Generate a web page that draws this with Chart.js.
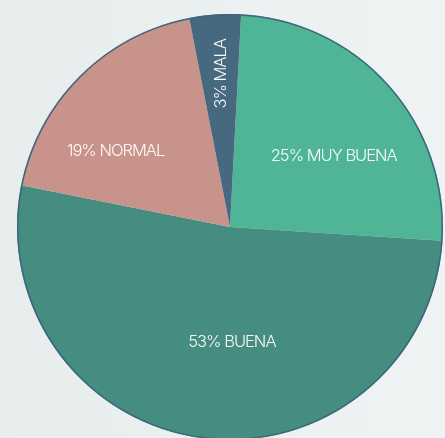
<!DOCTYPE html>
<html>
<head>
<meta charset="utf-8">
<script src="https://cdn.jsdelivr.net/npm/chart.js@4"></script>
<style>
  html, body { margin: 0; padding: 0; }
  body {
    width: 445px; height: 438px; overflow: hidden; position: relative;
    background: linear-gradient(to right, #e7eded, #eff3f3);
  }
  #wrap { position: absolute; left: 17px; top: 14px; width: 426px; height: 426px; }
</style>
</head>
<body>
<div id="wrap"><canvas id="pieChart"></canvas></div>
<script>
// categories and values (percent of answers)
var categories = ['MUY BUENA', 'BUENA', 'NORMAL', 'MALA'];
var values = [25.2, 52.1, 18.8, 3.9];
var labelTexts = ['25% MUY BUENA', '53% BUENA', '19% NORMAL', '3% MALA'];

var colors = ['#50b596', '#458c81', '#c8938a', '#46697f'];

// where each label sits inside its slice: fraction along the arc, fraction of radius, rotation
var labelPlace = [
  { along: 0.58, radius: 0.59, rotate: 0 },
  { along: 0.455, radius: 0.54, rotate: 0 },
  { along: 0.33, radius: 0.645, rotate: 0 },
  { along: 0.56, radius: 0.72, rotate: -Math.PI / 2 }
];

var sliceLabels = {
  id: 'sliceLabels',
  afterDatasetsDraw: function (chart) {
    var ctx = chart.ctx;
    var arcs = chart.getDatasetMeta(0).data;
    ctx.save();
    // outer rim
    var a0 = arcs[0];
    ctx.beginPath();
    ctx.arc(a0.x, a0.y, a0.outerRadius - 0.75, 0, Math.PI * 2);
    ctx.lineWidth = 1.5;
    ctx.strokeStyle = '#3f667f';
    ctx.stroke();

    ctx.font = '300 16.5px Inter';
    ctx.letterSpacing = '-1px';
    ctx.fillStyle = 'rgba(255,255,255,0.95)';
    ctx.textAlign = 'center';
    ctx.textBaseline = 'middle';
    arcs.forEach(function (arc, i) {
      var p = labelPlace[i];
      var ang = arc.startAngle + p.along * (arc.endAngle - arc.startAngle);
      var r = arc.outerRadius * p.radius;
      var x = arc.x + Math.cos(ang) * r;
      var y = arc.y + Math.sin(ang) * r;
      ctx.save();
      ctx.translate(x, y);
      ctx.rotate(p.rotate);
      ctx.fillText(labelTexts[i], 0, 0);
      ctx.restore();
    });
    ctx.restore();
  }
};

var ctx = document.getElementById('pieChart').getContext('2d');
new Chart(ctx, {
  type: 'pie',
  data: {
    labels: categories,
    datasets: [{
      data: values,
      backgroundColor: colors,
      borderWidth: 0,
      hoverOffset: 0,
      offset: 0
    }]
  },
  options: {
    responsive: true,
    maintainAspectRatio: false,
    animation: false,
    rotation: 3,
    layout: { padding: 0 },
    plugins: {
      legend: { display: false },
      tooltip: { enabled: false }
    }
  },
  plugins: [sliceLabels]
});
</script>
</body>
</html>
